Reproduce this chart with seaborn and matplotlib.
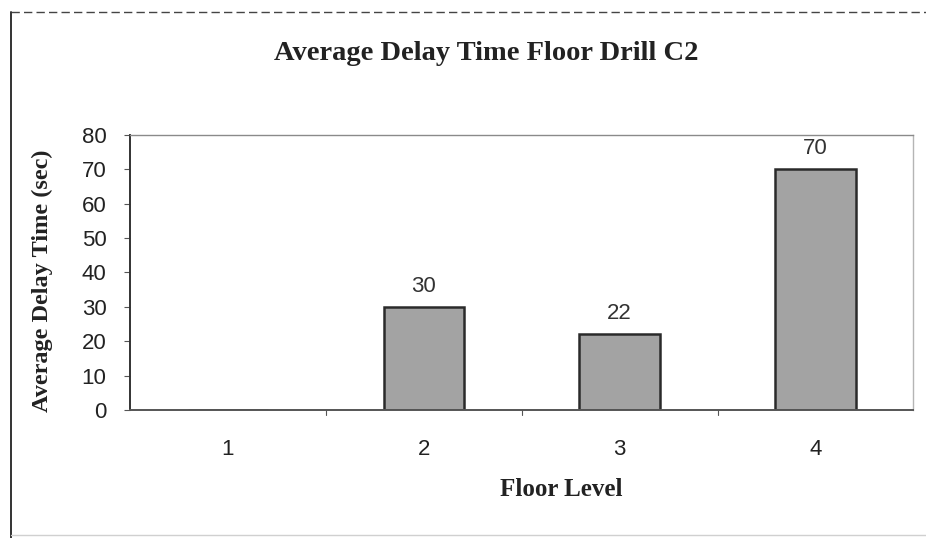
import matplotlib
matplotlib.use("Agg")
import matplotlib.pyplot as plt
import seaborn as sns
import pandas as pd
from matplotlib.lines import Line2D

# Floor drill C2: mean delay per floor
floors = ["1", "2", "3", "4"]
delays = [0, 30, 22, 70]
y_ticks = [0, 10, 20, 30, 40, 50, 60, 70, 80]

df = pd.DataFrame({"Floor": floors, "Delay": delays})

sns.set_theme(style="white")
plt.rcParams["font.family"] = ["Liberation Sans", "DejaVu Sans"]

fig = plt.figure(figsize=(9.26, 5.38), dpi=100)
ax = fig.add_axes([0.1404, 0.238, 0.846, 0.511])

sns.barplot(data=df, x="Floor", y="Delay", ax=ax, color="#a3a3a3",
            edgecolor="#2a2a2a", linewidth=1.8, width=0.41, saturation=1)

ax.set_ylim(0, 80)
ax.set_xlim(-0.5, 3.5)
ax.set_yticks(y_ticks)
ax.set_yticklabels([str(v) for v in y_ticks], fontsize=16, color="#222222")
ax.set_xticks(range(len(floors)))
ax.set_xticklabels(floors, fontsize=16, color="#222222")
ax.tick_params(axis="x", length=0, pad=21)
ax.tick_params(axis="y", length=4, width=0.8, color="#555555", pad=13,
               direction="out", left=True)

# category separators on the x axis
for xs in [0.5, 1.5, 2.5]:
    ax.plot([xs, xs], [0, -1.6], color="#555555", lw=0.8, clip_on=False)

ax.spines["top"].set_color("#8a8a8a")
ax.spines["top"].set_linewidth(1.0)
ax.spines["right"].set_color("#b5b5b5")
ax.spines["right"].set_linewidth(1.0)
ax.spines["left"].set_color("#333333")
ax.spines["left"].set_linewidth(1.4)
ax.spines["bottom"].set_color("#555555")
ax.spines["bottom"].set_linewidth(1.4)

# value labels for non-zero bars
for i, v in enumerate(delays):
    if v > 0:
        ax.text(i, v + 3, str(v), ha="center", va="bottom", fontsize=16,
                color="#333333")

ax.set_xlabel("Floor Level", family=["Liberation Serif"], fontweight="bold",
              fontsize=18, color="#222222")
ax.xaxis.set_label_coords(0.55, -0.291)
ax.xaxis.label.set_verticalalignment("center")

ax.set_ylabel("Average Delay Time (sec)", family=["Liberation Serif"],
              fontweight="bold", fontsize=17.5, color="#222222")
ax.yaxis.set_label_coords(-0.112, 0.47)
ax.yaxis.label.set_verticalalignment("center")

fig.text(0.525, 0.901, "Average Delay Time Floor Drill C2",
         family=["Liberation Serif"], fontweight="bold", fontsize=20.5,
         color="#222222", ha="center", va="center")

# outer frame of the chart
fig.add_artist(Line2D([0.012, 1.0], [0.977, 0.977], transform=fig.transFigure,
                      color="#444444", lw=1.0, ls=(0, (6, 3))))
fig.add_artist(Line2D([0.012, 0.012], [0.977, 0.0], transform=fig.transFigure,
                      color="#333333", lw=1.4))
fig.add_artist(Line2D([0.012, 1.0], [0.006, 0.006], transform=fig.transFigure,
                      color="#d0d0d0", lw=1.0))

fig.savefig("out.png", dpi=100, facecolor="white")
